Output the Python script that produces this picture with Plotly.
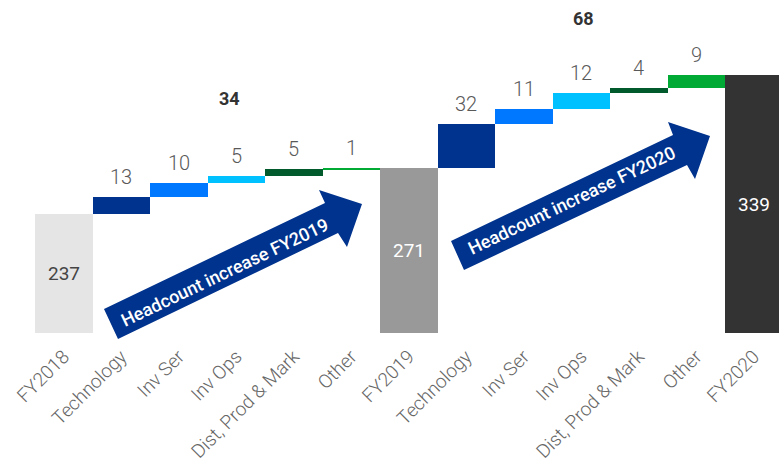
import plotly.graph_objects as go

# ---- data ----
categories = ["FY2018", "Technology", "Inv Ser", "Inv Ops", "Dist, Prod & Mark", "Other",
              "FY2019", "Technology", "Inv Ser", "Inv Ops", "Dist, Prod & Mark", "Other",
              "FY2020"]
values = [237, 13, 10, 5, 5, 1, 271, 32, 11, 12, 4, 9, 339]
kinds = ["total", "relative", "relative", "relative", "relative", "relative",
         "total", "relative", "relative", "relative", "relative", "relative", "total"]
group_increase = [34, 68]
arrow_labels = ["Headcount increase FY2019", "Headcount increase FY2020"]

# ---- styles ----
colors = ["#E5E5E5", "#00338D", "#0078FF", "#00C1FF", "#005A2C", "#00AA34",
          "#999999", "#00338D", "#0078FF", "#00C1FF", "#005A2C", "#00AA34", "#333333"]
total_text_colors = {0: "#444444", 6: "#FFFFFF", 12: "#FFFFFF"}
ARROW_COLOR = "#00338D"
FONT = "Roboto"
Y_MIN = 150
W, H = 779, 458
ML, MR, MT, MB = 35, 0, 0, 125
PW, PH = W - ML - MR, H - MT - MB
px_per_cat = 57.5
Y_MAX = Y_MIN + PH / 1.363

xs = list(range(len(categories)))
bases, heights, tops = [], [], []
running = 0
for v, k in zip(values, kinds):
    if k == "total":
        running = v
        bases.append(Y_MIN)
        heights.append(v - Y_MIN)
    else:
        bases.append(running)
        heights.append(v)
        running += v
    tops.append(running)

fig = go.Figure(go.Bar(
    x=xs, y=heights, base=bases, marker=dict(color=colors, line=dict(width=0)),
    width=1.0, hoverinfo="skip", showlegend=False,
))

annotations = []
for i, (v, k) in enumerate(zip(values, kinds)):
    if k == "total":
        annotations.append(dict(x=i, y=(Y_MIN + v) / 2, text=str(v), showarrow=False,
                                xanchor="center", yanchor="middle",
                                font=dict(family=FONT, size=19, color=total_text_colors[i])))
    else:
        annotations.append(dict(x=i, y=tops[i], text=str(v), showarrow=False,
                                xanchor="center", yanchor="bottom", yshift=6,
                                font=dict(family=FONT, size=20, color="#595959", weight=300)))

# group increase labels (bold) centred over the increments
total_idx = [i for i, k in enumerate(kinds) if k == "total"]
group_y = [322, 381]
for g, inc in enumerate(group_increase):
    a, b = total_idx[g], total_idx[g + 1]
    annotations.append(dict(x=(a + b) / 2, y=group_y[g], text=str(inc), showarrow=False,
                            xanchor="center", yanchor="middle", xshift=-7 if g == 0 else 2,
                            font=dict(family=FONT, size=18, color="#333333", weight=700)))

# ---- block arrows (pixel geometry -> paper coords) ----
def P(px, py):
    return (px - ML) / PW, 1 - (py - MT) / PH

arrows_px = [
    [(104, 309), (325, 203), (319, 190), (362, 204), (347, 247), (338, 233), (118, 339)],
    [(451, 241), (673, 135), (668, 122), (710, 136), (695, 179), (687, 165), (464, 270)],
]
text_pos_px = [(224, 272), (571, 200)]
shapes = []
for poly, (tx, ty), lab in zip(arrows_px, text_pos_px, arrow_labels):
    pts = [P(x, y) for x, y in poly]
    path = "M " + " L ".join(f"{x:.5f},{y:.5f}" for x, y in pts) + " Z"
    shapes.append(dict(type="path", xref="paper", yref="paper", path=path,
                       fillcolor=ARROW_COLOR, line=dict(width=0), layer="above"))
    px_, py_ = P(tx, ty)
    annotations.append(dict(xref="paper", yref="paper", x=px_, y=py_, text=lab,
                            showarrow=False, textangle=-25.5, xanchor="center", yanchor="middle",
                            font=dict(family=FONT, size=18, color="#FFFFFF", weight=500)))

fig.update_layout(
    width=W, height=H, margin=dict(l=ML, r=MR, t=MT, b=MB, autoexpand=False),
    plot_bgcolor="white", paper_bgcolor="white",
    bargap=0, shapes=shapes, annotations=annotations,
    xaxis=dict(range=[-0.5, -0.5 + PW / px_per_cat], tickvals=xs, ticktext=categories,
               tickangle=-45, showgrid=False, zeroline=False, showline=False, automargin=False,
               ticks="outside", ticklen=4, tickcolor="rgba(0,0,0,0)",
               tickfont=dict(family=FONT, size=19, color="#666666", weight=300)),
    yaxis=dict(range=[Y_MIN, Y_MAX], visible=False, automargin=False),
)
fig.update_traces(cliponaxis=False)

fig.write_html("out.html", config={"displayModeBar": False},
               post_script="document.body.style.margin='0';document.body.style.overflow='hidden';")
